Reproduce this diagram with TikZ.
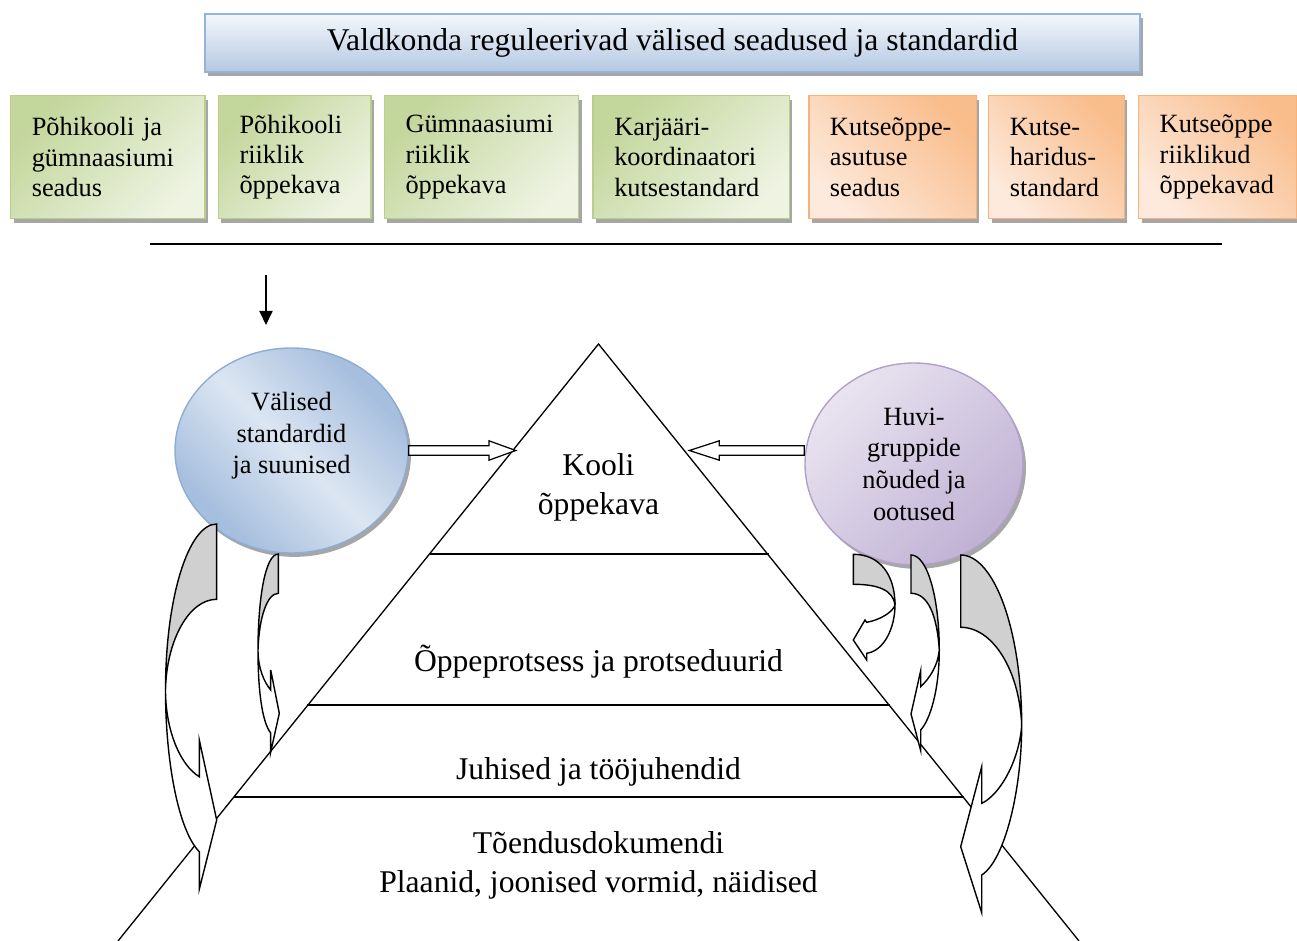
\documentclass[tikz,border=0pt]{standalone}
\usepackage{fontspec}
\setmainfont{Liberation Serif}
\usepackage{tikz}
\usetikzlibrary{arrows.meta, positioning, shapes.geometric, shadows}

\definecolor{bannerlight}{HTML}{F4F7FB}
\definecolor{bannerdark}{HTML}{B4C8E2}
\definecolor{bannerline}{HTML}{95B3D7}
\definecolor{greendark}{HTML}{C3D69B}
\definecolor{greenlight}{HTML}{EEF3E2}
\definecolor{greenline}{HTML}{B9CE8D}
\definecolor{orangedark}{HTML}{F9BD8C}
\definecolor{orangelight}{HTML}{FDEADC}
\definecolor{orangeline}{HTML}{F7B27A}
\definecolor{bluedark}{HTML}{A7BFDE}
\definecolor{bluelight}{HTML}{DCE6F2}
\definecolor{blueline}{HTML}{8EACD4}
\definecolor{violetdark}{HTML}{BFB1D4}
\definecolor{violetlight}{HTML}{E9E4F0}
\definecolor{violetline}{HTML}{B2A1C7}
\definecolor{backgray}{HTML}{D0D0D0}

\pgfdeclareverticalshading{bluerefl}{100bp}{color(0bp)=(bluedark); color(28bp)=(bluedark); color(50bp)=(bluelight); color(72bp)=(bluedark); color(100bp)=(bluedark)}

\begin{document}
\begin{tikzpicture}[x=0.2mm, y=-0.2mm,
    txtbig/.style={font=\fontsize{18}{21.8}\selectfont, align=center},
    txtsmall/.style={font=\fontsize{15}{18}\selectfont, align=center},
    boxshadow/.style={drop shadow={shadow xshift=1.7pt, shadow yshift=-2.2pt, fill=black, opacity=.35}},
    banner/.style={draw=bannerline, line width=0.8pt, top color=bannerlight, bottom color=bannerdark,
        minimum width=187mm, minimum height=11.6mm, inner sep=0pt, boxshadow, txtbig},
    lawbox/.style={draw=greenline, line width=0.8pt, top color=greendark, bottom color=greenlight, shading angle=45,
        boxshadow, minimum height=24.6mm, text width=#1, inner xsep=12pt, align=left,
        font=\fontsize{15}{17.3}\selectfont},
    vocbox/.style={lawbox=#1, draw=orangeline, top color=orangedark, bottom color=orangelight, shading angle=-45},
    bluecirc/.style={ellipse, draw=blueline, line width=0.8pt, shading=bluerefl, shading angle=-45,
        boxshadow, minimum width=46.6mm, minimum height=41mm, inner sep=0pt},
    violetcirc/.style={ellipse, draw=violetline, line width=0.8pt, top color=violetlight, bottom color=violetdark,
        shading angle=45, boxshadow, minimum width=43.6mm, minimum height=40.4mm, inner sep=0pt, txtsmall},
    pyr/.style={line width=0.75pt},
    hollow/.style={draw, fill=white, line width=0.7pt},
    curl/.style={draw, fill=white, line width=0.8pt, line join=miter},
    curlback/.style={curl, fill=backgray}]

  \useasboundingbox (0,0) rectangle (1297,941);

  % laws and standards
  \node[banner] (regs) at (672.5,43) {Valdkonda reguleerivad välised seadused ja standardid};

  \node[lawbox=86.6pt, anchor=north west] (pgs) at (10,95) {Põhikooli ja\\gümnaasiumi\\seadus};
  \node[lawbox=62.8pt, right=2.4mm of pgs] (prk) {Põhikooli\\riiklik\\õppekava};
  \node[lawbox=86.6pt, right=2.4mm of prk] (grk) {Gümnaasiumi\\riiklik\\õppekava};
  \node[lawbox=87.7pt, right=2.6mm of grk] (kks) {Karjääri-\\koordinaatori\\kutsestandard};
  \node[vocbox=71.3pt, right=3.6mm of kks] (kas) {Kutseõppe-\\asutuse\\seadus};
  \node[vocbox=53.1pt, right=2.2mm of kas] (khs) {Kutse-\\haridus-\\standard};
  \node[vocbox=66.2pt, right=2.6mm of khs] (kro) {Kutseõppe\\riiklikud\\õppekavad};

  \draw[line width=0.9pt] (150,244) -- (1222,244);

  \coordinate (in1) at (266,275);
  \coordinate (in2) at (266,325);
  \draw[line width=0.8pt, -{Triangle[length=8pt,width=7.5pt]}] (in1) -- (in2);

  % pyramid
  \coordinate (apex) at (598.5,344);
  \coordinate (pl) at (118,941);
  \coordinate (pr) at (1079,941);
  \draw[pyr] (pl) -- (apex) -- (pr);
  \draw[pyr] (429.5,554) -- (769,554);
  \draw[pyr] (307,705) -- (889.5,705);
  \draw[pyr] (234,797) -- (963.5,797);

  \node[txtbig] (kooli) at (598.5,487.5) {Kooli\\õppekava};
  \node[txtbig] (protsess) at (598.5,662) {Õppeprotsess ja protseduurid};
  \node[txtbig] (juhised) at (598.5,772) {Juhised ja tööjuhendid};
  \node[txtbig] (toend) at (598.5,865.5) {Tõendusdokumendi\\Plaanid, joonised vormid, näidised};

  % outside influences
  \node[bluecirc] (vs) at (291.5,450.5) {};
  \node[txtsmall] (vstxt) at (291.5,436) {Välised\\standardid\\ja suunised};
  \node[violetcirc] (hg) at (914,464) {Huvi-\\gruppide\\nõuded ja\\ootused};

  \draw[hollow] (vs.east) ++(0,-4.7) -- ++(80.3,0) -- ++(0,-5) -- ++(26.7,9.7) -- ++(-26.7,9.7)
      -- ++(0,-5) -- ++(-80.3,0) -- cycle;
  \draw[hollow] (hg.west |- vs.east) ++(0,-4.7) -- ++(-85,0) -- ++(0,-5) -- ++(-30,9.7) -- ++(30,9.7)
      -- ++(0,-5) -- ++(85,0) -- cycle;

  % curved arrows, left
  \draw[curlback] (216.7,524) .. controls (188.2,524) and (165.5,598.4) .. (165.5,690)
      .. controls (166.5,640) and (189.1,599.3) .. (216.7,599.3) -- cycle;
  \draw[curl] (165.5,690) .. controls (165.5,760) and (178,830) .. (199.3,851.7) -- (199.3,889.3)
      -- (216.7,820) -- (199.3,740) -- (199.3,776.7) .. controls (180,765) and (165.5,730) .. (165.5,690) -- cycle;

  \draw[curlback] (278.3,554) .. controls (265,554) and (258,600) .. (258,650)
      .. controls (259,618) and (267,593.3) .. (278.3,593.3) -- cycle;
  \draw[curl] (258,650) .. controls (258,690) and (262,722) .. (270.7,733) -- (270.7,752)
      -- (279.3,713.3) -- (270.7,670) -- (270.7,690) .. controls (264,682) and (258,668) .. (258,650) -- cycle;

  % curved arrows, right
  \draw[curlback] (853.3,554.3) .. controls (880,554.3) and (895,575) .. (895,605)
      .. controls (893,590) and (878,584.3) .. (853.3,584.3) -- cycle;
  \draw[curl] (895,605) .. controls (895,628) and (884,651) .. (866.7,653.3) -- (866.7,660)
      -- (853.3,640) -- (865,620) -- (866.7,622.3) .. controls (880,620) and (893,612) .. (895,605) -- cycle;

  \draw[curlback] (911,555) .. controls (928,555) and (939.3,600) .. (939.3,650)
      .. controls (937,615) and (928,593.3) .. (911,593.3) -- cycle;
  \draw[curl] (939.3,650) .. controls (939.3,690) and (930,720) .. (920.7,730) -- (920.7,750.7)
      -- (911,714) -- (920.7,670.7) -- (920.7,686.7) .. controls (930,678) and (938,665) .. (939.3,650) -- cycle;

  \draw[curlback] (960.7,555) .. controls (994.4,555) and (1021.7,631.2) .. (1021.7,725)
      .. controls (1019.5,671.1) and (993.2,627.3) .. (960.7,627.3) -- cycle;
  \draw[curl] (1021.7,725) .. controls (1021.7,790) and (1005,860) .. (981.7,875) -- (981.7,912.7)
      -- (960.7,846.7) -- (981.7,766.7) -- (981.7,803.3) .. controls (1000,795) and (1019.5,760) .. (1021.7,725) -- cycle;
\end{tikzpicture}
\end{document}
